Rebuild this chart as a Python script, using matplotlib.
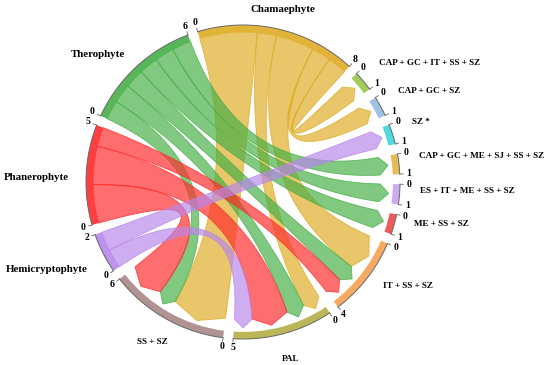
import numpy as np
import matplotlib.pyplot as plt
from matplotlib.patches import Polygon, Wedge

# ---- data ----
life_forms = ['Chamaephyte', 'Therophyte', 'Phanerophyte', 'Hemicryptophyte']
habitats = ['CAP + GC + IT + SS + SZ', 'CAP + GC + SZ', 'SZ *',
            'CAP + GC + ME + SJ + SS + SZ', 'ES + IT + ME + SS + SZ',
            'ME + SS + SZ', 'IT + SS + SZ', 'PAL', 'SS + SZ']
# number of species per life form in each habitat (columns = habitats)
chamaephyte = [1, 1, 0, 0, 0, 0, 2, 1, 3]
therophyte = [0, 0, 0, 1, 1, 1, 1, 1, 1]
phanerophyte = [0, 0, 0, 0, 0, 0, 1, 2, 2]
hemicryptophyte = [0, 0, 1, 0, 0, 0, 0, 1, 0]

life_colors = ['#DEAB22', '#45AE45', '#FF2A2A', '#B886EA']
habitat_colors = ['#96C846', '#96B9E1', '#3CD7D7', '#E1B446', '#C8A0EB',
                  '#F04646', '#F5A050', '#B4AF46', '#AA8787']

# clockwise order round the circle, starting at the top
order = ['Chamaephyte'] + habitats + ['Hemicryptophyte', 'Phanerophyte', 'Therophyte']

# ---- layout ----
matrix = np.array([chamaephyte, therophyte, phanerophyte, hemicryptophyte])
size = {n: matrix[i].sum() for i, n in enumerate(life_forms)}
size.update({n: matrix[:, j].sum() for j, n in enumerate(habitats)})
color = dict(zip(life_forms, life_colors))
color.update(dict(zip(habitats, habitat_colors)))

START, GAP = 106.8, 3.7
total = sum(size.values())
unit = (360 - GAP * len(order)) / total
R_OUT, R_IN = 1.0, 0.955
R_BASE, R_TIP = 0.875, 0.93

sec_start, sec_end = {}, {}
a = START
for n in order:
    sec_start[n] = a
    a -= size[n] * unit
    sec_end[n] = a
    a -= GAP

idx = {n: i for i, n in enumerate(order)}
# position of each link end inside its sector (ordered to avoid crossings)
link_pos = {}
for s in order:
    partners = []
    for i, lf in enumerate(life_forms):
        for j, hb in enumerate(habitats):
            v = matrix[i, j]
            if v == 0:
                continue
            if s == lf:
                partners.append((hb, v))
            elif s == hb:
                partners.append((lf, v))
    partners.sort(key=lambda p: (idx[s] - idx[p[0]]) % len(order))
    pos = sec_start[s]
    for t, v in partners:
        link_pos[(s, t)] = (pos, pos - v * unit)
        pos -= v * unit


def pol(r, deg):
    t = np.deg2rad(deg)
    return np.array([r * np.cos(t), r * np.sin(t)])


def bezier(p0, p2, n=60):
    t = np.linspace(0, 1, n)[:, None]
    return (1 - t) ** 2 * p0 + t ** 2 * p2  # control point at centre


def arc(r, a1, a2, n=40):
    ang = np.deg2rad(np.linspace(a1, a2, n))
    return np.column_stack([r * np.cos(ang), r * np.sin(ang)])


# ---- figure ----
fig = plt.figure(figsize=(5.5, 3.65), dpi=100)
ax = fig.add_axes([0, 0, 1, 1])
cx, cy, rpx = 243, 182, 157
ax.set_xlim(-cx / rpx, (550 - cx) / rpx)
ax.set_ylim(-(365 - cy) / rpx, cy / rpx)
ax.set_aspect('equal')
ax.axis('off')

# links
for i, lf in enumerate(life_forms):
    for j, hb in enumerate(habitats):
        if matrix[i, j] == 0:
            continue
        a1, a2 = link_pos[(lf, hb)]
        b1, b2 = link_pos[(hb, lf)]
        pts = [arc(R_IN, a1, a2),
               bezier(pol(R_IN, a2), pol(R_BASE, b1)),
               [pol(R_TIP, (b1 + b2) / 2)],
               bezier(pol(R_BASE, b2), pol(R_IN, a1))]
        poly = np.vstack(pts)
        ax.add_patch(Polygon(poly, closed=True, facecolor=color[lf], alpha=0.68,
                             edgecolor='none', zorder=2))
        ax.add_patch(Polygon(poly, closed=True, facecolor='none',
                             edgecolor=color[lf], alpha=0.8, lw=0.6, zorder=2))

# sector tracks, axis and end ticks
font = dict(family=['Liberation Serif', 'DejaVu Serif'], weight='bold')
for n in order:
    s, e = sec_start[n], sec_end[n]
    ax.add_patch(Wedge((0, 0), R_OUT, e, s, width=R_OUT - R_IN,
                       facecolor=color[n], edgecolor='none', alpha=0.9, zorder=3))
    xy = arc(R_OUT, e, s)
    ax.plot(xy[:, 0], xy[:, 1], color='#666666', lw=0.7, zorder=4)
    for k in (0, size[n]):
        ang = s - k * unit
        p, q = pol(R_OUT, ang), pol(R_OUT + 0.022, ang)
        ax.plot([p[0], q[0]], [p[1], q[1]], color='#666666', lw=0.6, zorder=4)
        t = pol(1.058, ang)
        ax.text(t[0], t[1], str(k), fontsize=7, ha='center', va='center', **font)

# sector names
for n in order:
    mid = (sec_start[n] + sec_end[n]) / 2
    c = np.cos(np.deg2rad(mid))
    fs = 7.8 if n in life_forms else 6.6
    if n == 'Chamaephyte':
        p, ha, dy = pol(1.127, mid), 'center', 0
    elif n in ('SS + SZ', 'PAL'):
        p, ha, dy = pol(1.17, mid), 'center', 0
    elif c > 0:
        p, ha, dy = pol(1.13, mid), 'left', 0.035
    else:
        p, ha, dy = pol(1.11, mid), 'right', 0
        if n == 'Hemicryptophyte':
            dy = -0.05
        elif n == 'Phanerophyte':
            dy = -0.025
    ax.text(p[0], p[1] + dy, n, fontsize=fs, ha=ha, va='center', **font)

fig.savefig('out.png', dpi=100)
